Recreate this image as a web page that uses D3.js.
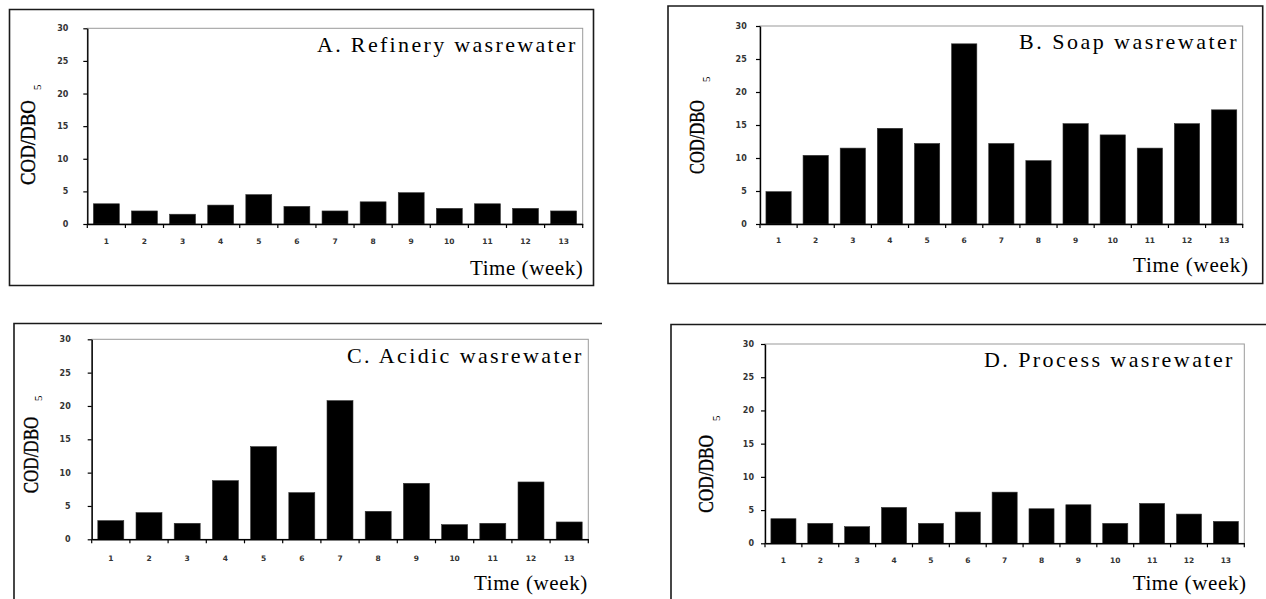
<!DOCTYPE html>
<html>
<head>
<meta charset="utf-8">
<script src="https://cdn.jsdelivr.net/npm/d3@7"></script>
<style>
  html, body { margin: 0; padding: 0; background: #fff; }
  svg { display: block; }
</style>
</head>
<body>
<svg id="chart" width="1266" height="599"></svg>
<script>
// ---- data ----
const weeks = ["1","2","3","4","5","6","7","8","9","10","11","12","13"];
const refinery = [3.1, 2.0, 1.5, 2.9, 4.5, 2.7, 2.0, 3.4, 4.8, 2.4, 3.1, 2.4, 2.0];
const soap     = [4.9, 10.4, 11.5, 14.5, 12.2, 27.3, 12.2, 9.6, 15.2, 13.5, 11.5, 15.2, 17.3];
const acidic   = [2.8, 4.0, 2.4, 8.8, 13.9, 7.0, 20.8, 4.2, 8.4, 2.2, 2.4, 8.6, 2.6];
const process  = [3.7, 3.0, 2.5, 5.4, 3.0, 4.7, 7.7, 5.2, 5.8, 3.0, 6.0, 4.4, 3.3];
const yTicks = [0, 5, 10, 15, 20, 25, 30];
const titles = ["A. Refinery wasrewater", "B. Soap wasrewater", "C. Acidic wasrewater", "D. Process wasrewater"];
const xTitle = "Time (week)";
const yTitle = "COD/DBO";
const ySub = "5";

// ---- layout (positions only) ----
const layouts = [
  { values: refinery, box: "M9.5,9.5H593.5V285.5H9.5Z",
    x0: 87.3, x1: 582.7, yb: 224, yt: 28.3,
    title: [317, 575.4, 52], time: [470, 582.7, 275],
    ylab: { bottom: 185, top: 100, base: 35, subStart: 90, subBase: 41 },
    yLabEnd: 68.3, xLabY: 241.7 },
  { values: soap, box: "M668,6H1262.7V283.5H668Z",
    x0: 760, x1: 1242.7, yb: 224, yt: 26,
    title: [1019, 1236.7, 49.3], time: [1133, 1248, 271.7],
    ylab: { bottom: 174, top: 100, base: 704, subStart: 82, subBase: 709.5 },
    yLabEnd: 746.7, xLabY: 240.7 },
  { values: acidic, box: "M602,323.5H14V600",
    x0: 91.7, x1: 588.3, yb: 539.3, yt: 339.3,
    title: [347, 581.4, 363], time: [474, 587.3, 590],
    ylab: { bottom: 493.3, top: 416.7, base: 38.3, subStart: 401, subBase: 42 },
    yLabEnd: 70.7, xLabY: 559 },
  { values: process, box: "M1267,324.5H671V600",
    x0: 765, x1: 1244.3, yb: 543.3, yt: 344,
    title: [984, 1232.4, 366.5], time: [1132.7, 1246, 590],
    ylab: { bottom: 512.7, top: 435, base: 713.3, subStart: 421, subBase: 720 },
    yLabEnd: 754, xLabY: 561 }
];

const svg = d3.select("#chart");
svg.append("rect").attr("width", 1266).attr("height", 599).attr("fill", "#fff");

layouts.forEach((L, idx) => {
  const g = svg.append("g");

  // outer frame
  g.append("path").attr("d", L.box).attr("fill", "none")
    .attr("stroke", "#1a1a1a").attr("stroke-width", 1.6);

  const pi = 0.32;
  const x = d3.scaleBand().domain(weeks).range([L.x0, L.x1])
    .paddingInner(pi).paddingOuter(pi / 2);
  const y = d3.scaleLinear().domain([0, 30]).range([L.yb, L.yt]);

  // plot area border (grey)
  g.append("rect")
    .attr("x", L.x0).attr("y", L.yt)
    .attr("width", L.x1 - L.x0).attr("height", L.yb - L.yt)
    .attr("fill", "none").attr("stroke", "#9a9a9a").attr("stroke-width", 1);

  // bars
  g.selectAll("rect.bar").data(L.values).enter().append("rect")
    .attr("class", "bar")
    .attr("x", (d, i) => x(weeks[i]))
    .attr("width", x.bandwidth())
    .attr("y", d => y(d))
    .attr("height", d => y(0) - y(d))
    .attr("fill", "#000")
    .attr("stroke", "#333").attr("stroke-width", 0.6);

  // y axis
  const yAxis = d3.axisLeft(y).tickValues(yTicks).tickSize(4).tickSizeOuter(0)
    .tickPadding(L.x0 - L.yLabEnd - 4);
  const ga = g.append("g").attr("transform", `translate(${L.x0},0)`).call(yAxis);
  ga.select(".domain").attr("stroke", "#000").attr("stroke-width", 1.4);
  ga.selectAll(".tick line").attr("stroke", "#000").attr("stroke-width", 1.2);
  ga.selectAll(".tick text")
    .attr("font-family", "DejaVu Sans").attr("font-weight", "bold")
    .attr("font-size", 8).attr("fill", "#333");

  // x axis (labels centred in bands)
  const xAxis = d3.axisBottom(x).tickSize(0).tickSizeOuter(0)
    .tickPadding(L.xLabY - L.yb - 3);
  const gx = g.append("g").attr("transform", `translate(0,${L.yb})`).call(xAxis);
  gx.select(".domain").attr("stroke", "#000").attr("stroke-width", 1.4);
  gx.selectAll(".tick text")
    .attr("font-family", "DejaVu Sans").attr("font-weight", "bold")
    .attr("font-size", 7.5).attr("fill", "#333");

  // boundary tick marks below the axis
  const step = x.step();
  const bounds = d3.range(weeks.length + 1).map(i => L.x0 + i * step);
  g.selectAll("line.btick").data(bounds).enter().append("line")
    .attr("x1", d => d).attr("x2", d => d)
    .attr("y1", L.yb).attr("y2", L.yb + 4)
    .attr("stroke", "#000").attr("stroke-width", 1.2);

  // panel title
  g.append("text")
    .attr("x", L.title[0]).attr("y", L.title[2])
    .attr("textLength", L.title[1] - L.title[0]).attr("lengthAdjust", "spacing")
    .attr("font-family", "Liberation Serif").attr("font-size", 22)
    .attr("fill", "#000").text(titles[idx]);

  // x axis title
  g.append("text")
    .attr("x", L.time[0]).attr("y", L.time[2])
    .attr("textLength", L.time[1] - L.time[0]).attr("lengthAdjust", "spacing")
    .attr("font-family", "Liberation Serif").attr("font-size", 21)
    .attr("fill", "#000").text(xTitle);

  // y axis title
  const yl = L.ylab;
  g.append("text")
    .attr("transform", `translate(${yl.base},${yl.bottom}) rotate(-90)`)
    .attr("x", 0).attr("y", 0)
    .attr("textLength", yl.bottom - yl.top).attr("lengthAdjust", "spacingAndGlyphs")
    .attr("font-family", "Liberation Serif").attr("font-size", 21)
    .attr("fill", "#000").attr("stroke", "#000").attr("stroke-width", 0.4)
    .text(yTitle);
  g.append("text")
    .attr("transform", `translate(${yl.subBase},${yl.subStart}) rotate(-90)`)
    .attr("font-family", "Liberation Serif").attr("font-size", 11)
    .attr("fill", "#000").text(ySub);
});
</script>
</body>
</html>
